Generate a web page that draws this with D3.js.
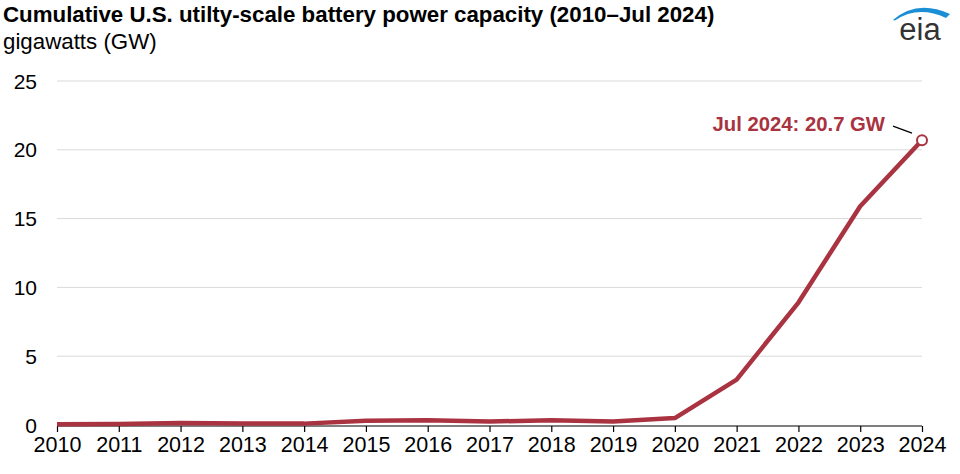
<!DOCTYPE html>
<html><head><meta charset="utf-8">
<script src="https://cdn.jsdelivr.net/npm/d3@7"></script>
<style>body{margin:0;background:#fff;font-family:"Liberation Sans",Arial,sans-serif}</style>
</head><body><svg id="c" width="960" height="474"></svg>
<script>
const years = [2010,2011,2012,2013,2014,2015,2016,2017,2018,2019,2020,2021,2022,2023,2024];
const capacityGW = [0.06,0.07,0.15,0.1,0.1,0.3,0.35,0.25,0.35,0.25,0.5,3.3,8.9,15.9,20.7];
const yTicks = [0,5,10,15,20,25];
const titleText = "Cumulative U.S. utilty-scale battery power capacity (2010\u2013Jul 2024)";
const unitText = "gigawatts (GW)";
const annotationText = "Jul 2024: 20.7 GW";

const svg = d3.select("#c");
const color = "#a93340";
const x = d3.scaleLinear().domain([2010,2024]).range([57,922]);
const y = d3.scaleLinear().domain([0,25]).range([425,81]);

svg.append("text").attr("x",3).attr("y",22).attr("font-size",22.3).attr("font-weight","bold").attr("fill","#000").text(titleText);
svg.append("text").attr("x",3).attr("y",49).attr("font-size",22.3).attr("fill","#000").text(unitText);

// eia logo
const logo = svg.append("g");
logo.append("text").attr("x",920).attr("y",40).attr("text-anchor","middle").attr("font-size",31).attr("fill","#333").text("eia");
logo.append("path").attr("d","M893,20 Q917,-1 950,14 L946,18 Q918,5 895,20.5 Z").attr("fill","#1a8fd6");

// grid
svg.append("g").selectAll("line").data(yTicks.filter(d=>d>0)).join("line")
  .attr("x1",57).attr("x2",922).attr("y1",d=>y(d)).attr("y2",d=>y(d))
  .attr("stroke","#d9d9d9").attr("stroke-width",1);

// y labels
svg.append("g").selectAll("text").data(yTicks).join("text")
  .attr("x",37).attr("y",d=>y(d)+7.5).attr("text-anchor","end").attr("font-size",21).attr("fill","#000").text(d=>d);

// x axis
const xAxis = d3.axisBottom(x).tickValues(years).tickFormat(d3.format("d")).tickSize(6).tickPadding(5);
const gx = svg.append("g").attr("transform",`translate(0,${y(0)+1})`).call(xAxis);
gx.select(".domain").attr("stroke","#000").attr("stroke-width",1.2).attr("d",`M57,0H922`);
gx.selectAll(".tick line").attr("stroke","#000").attr("stroke-width",1.2);
gx.selectAll(".tick text").attr("font-size",21.5).attr("font-family","Liberation Sans, Arial, sans-serif").attr("fill","#000");

// line
const line = d3.line().x((d,i)=>x(years[i])).y(d=>y(d));
svg.append("path").datum(capacityGW).attr("d",line).attr("fill","none").attr("stroke",color).attr("stroke-width",4.5).attr("stroke-linejoin","round");

// endpoint
const lx = x(years[years.length-1]), ly = y(capacityGW[capacityGW.length-1]);
svg.append("line").attr("x1",lx-29).attr("y1",ly-14).attr("x2",lx-10).attr("y2",ly-7).attr("stroke","#000").attr("stroke-width",1.3);
svg.append("circle").attr("cx",lx).attr("cy",ly).attr("r",5).attr("fill","#fff").attr("stroke",color).attr("stroke-width",2);
svg.append("text").attr("x",lx-37).attr("y",ly-9).attr("text-anchor","end").attr("font-size",20.3).attr("font-weight","bold").attr("fill",color).text(annotationText);
</script></body></html>
